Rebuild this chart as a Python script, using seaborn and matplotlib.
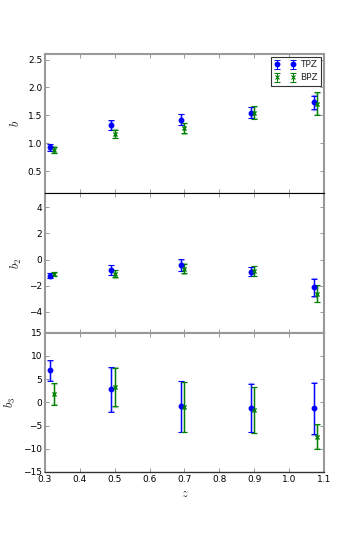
import numpy as np
import pandas as pd
import matplotlib
matplotlib.use("Agg")
import matplotlib.pyplot as plt
import seaborn as sns

# ---- data ----
z_tpz = [0.315, 0.49, 0.69, 0.89, 1.07]
z_bpz = [0.325, 0.50, 0.70, 0.90, 1.08]

b_tpz = [0.924, 1.320, 1.422, 1.548, 1.730]
b_tpz_err = [0.060, 0.087, 0.100, 0.098, 0.110]
b_tpz_err_light = [0.055, 0.080, 0.095, 0.095, 0.130]
b_bpz = [0.880, 1.166, 1.270, 1.550, 1.706]
b_bpz_err = [0.060, 0.075, 0.095, 0.110, 0.205]
b_bpz_err_light = [0.065, 0.080, 0.100, 0.100, 0.190]

b2_tpz = [-1.25, -0.81, -0.43, -0.92, -2.14]
b2_tpz_err = [0.20, 0.40, 0.46, 0.36, 0.66]
b2_tpz_err_light = [0.18, 0.38, 0.42, 0.38, 0.72]
b2_bpz = [-1.12, -1.09, -0.70, -0.90, -2.62]
b2_bpz_err = [0.16, 0.28, 0.36, 0.40, 0.66]
b2_bpz_err_light = [0.18, 0.32, 0.40, 0.38, 0.62]

b3_tpz = [6.87, 2.77, -0.90, -1.19, -1.33]
b3_tpz_err = [2.20, 4.85, 5.45, 5.15, 5.50]
b3_tpz_err_light = [2.10, 4.70, 5.55, 5.25, 5.70]
b3_bpz = [1.83, 3.28, -1.04, -1.62, -7.37]
b3_bpz_err = [2.35, 4.15, 5.40, 5.00, 2.60]
b3_bpz_err_light = [2.20, 4.25, 5.35, 4.90, 2.50]

labels = ["TPZ", "BPZ"]
ylabels = ["$b$", "$b_2$", "$b_3$"]

sns.set_style("white")
plt.rcParams["font.family"] = ["DejaVu Sans"]
plt.rcParams["mathtext.fontset"] = "cm"

fig, axes = plt.subplots(3, 1, figsize=(3.6, 5.4), dpi=100, sharex=True)
fig.subplots_adjust(left=0.125, right=0.9, top=0.9, bottom=0.126, hspace=0)

blue = (0, 0, 1)
green = (0, 0.5, 0)

panels = [
    (b_tpz, b_tpz_err, b_tpz_err_light, b_bpz, b_bpz_err, b_bpz_err_light, (0.1, 2.6),
     [0.5, 1.0, 1.5, 2.0, 2.5]),
    (b2_tpz, b2_tpz_err, b2_tpz_err_light, b2_bpz, b2_bpz_err, b2_bpz_err_light, (-5.6, 5.07),
     [-4, -2, 0, 2, 4]),
    (b3_tpz, b3_tpz_err, b3_tpz_err_light, b3_bpz, b3_bpz_err, b3_bpz_err_light, (-15, 15),
     [-15, -10, -5, 0, 5, 10, 15]),
]

for i, (ax, p) in enumerate(zip(axes, panels)):
    yt, et, elt, yb, eb, elb, ylim, yticks = p
    # light bars
    ax.errorbar(z_tpz, yt, yerr=elt, fmt="none", ecolor=blue, alpha=0.35,
                elinewidth=1.8, capsize=2, capthick=1)
    ax.errorbar(z_bpz, yb, yerr=elb, fmt="none", ecolor=green, alpha=0.35,
                elinewidth=1.8, capsize=2, capthick=1)
    # dark bars with markers (for legend)
    h1 = ax.errorbar(z_tpz, yt, yerr=et, fmt="o", color=blue, ms=3.2,
                     elinewidth=0.7, capsize=2, capthick=0.7, label=labels[0])
    h2 = ax.errorbar(z_bpz, yb, yerr=eb, fmt="x", color=green, ms=2.8, mew=0.8,
                     elinewidth=0.7, capsize=2, capthick=0.7, label=labels[1])
    df_t = pd.DataFrame({"z": z_tpz, "v": yt})
    df_b = pd.DataFrame({"z": z_bpz, "v": yb})
    sns.scatterplot(data=df_t, x="z", y="v", ax=ax, color=blue, marker="o", s=10,
                    edgecolor=blue, linewidth=0, legend=False, zorder=5)
    sns.scatterplot(data=df_b, x="z", y="v", ax=ax, color=green, marker="x", s=7,
                    linewidth=0.8, legend=False, zorder=5)
    ax.set_ylim(*ylim)
    ax.set_yticks(yticks)
    ax.set_xlim(0.3, 1.1)
    ax.set_xticks([0.3, 0.4, 0.5, 0.6, 0.7, 0.8, 0.9, 1.0, 1.1])
    ax.set_ylabel(ylabels[i], fontsize=9, labelpad=4)
    ax.set_xlabel("")
    ax.tick_params(direction="in", length=3, width=0.6, colors="#888888",
                   labelcolor="black", labelsize=6.5, top=True, right=True,
                   left=True, bottom=True, pad=2)
    for s in ax.spines.values():
        s.set_color("#999999")
        s.set_linewidth(1.5)
        s.set_visible(True)
    if i == 0:
        ax.legend(handles=[h1, h2], loc="upper right", fontsize=6.5, numpoints=2,
                  frameon=True, fancybox=False, edgecolor="black",
                  borderpad=0.4, handlelength=2.3, handletextpad=0.5,
                  labelspacing=0.45, borderaxespad=0.3).get_frame().set_linewidth(0.8)

axes[0].spines["bottom"].set_color("black")
axes[0].spines["bottom"].set_linewidth(0.8)
axes[1].spines["top"].set_color("black")
axes[1].spines["top"].set_linewidth(0.8)
axes[2].spines["bottom"].set_color("#333333")
axes[2].spines["bottom"].set_linewidth(1.0)

axes[2].set_xlabel("$z$", fontsize=9, labelpad=2)
for ax in axes[:2]:
    ax.tick_params(labelbottom=False)

fig.savefig("out.png", dpi=100)
